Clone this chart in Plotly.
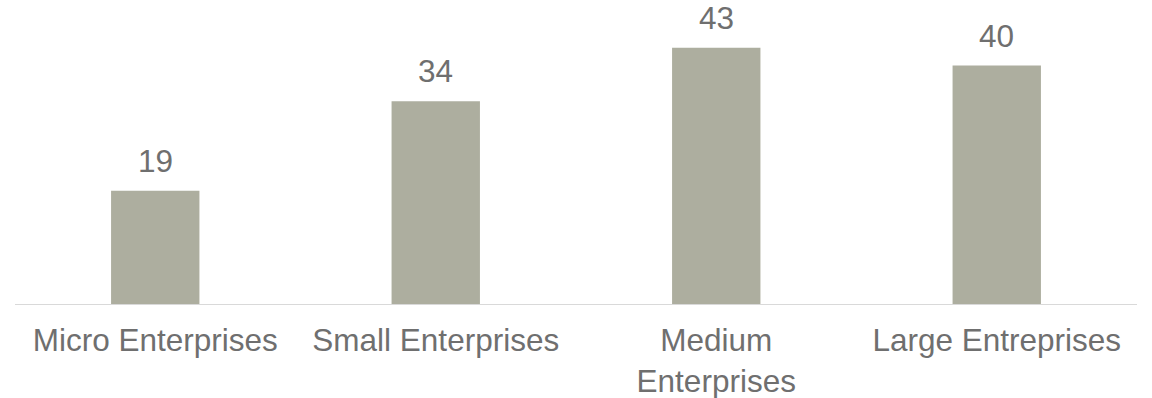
import plotly.graph_objects as go

categories = ["Micro Enterprises", "Small Enterprises", "Medium<br>Enterprises", "Large Entreprises"]
values = [19, 34, 43, 40]
value_labels = ["19", "34", "43", "40"]

BAR_COLOR = "#ADAE9F"
TEXT_COLOR = "#6F6F6F"
FONT = "Liberation Sans, Arial, sans-serif"
FS = 31.5

fig = go.Figure()
fig.add_trace(go.Bar(
    x=categories,
    y=values,
    marker=dict(color=BAR_COLOR, line=dict(width=0)),
    hoverinfo="skip",
))

for c, v, t in zip(categories, values, value_labels):
    fig.add_annotation(
        x=c, y=v, text=t, showarrow=False,
        yanchor="bottom", yshift=11, borderpad=0,
        font=dict(family=FONT, size=FS, color=TEXT_COLOR),
    )

fig.update_layout(
    width=1152, height=398,
    margin=dict(l=15, r=15, t=0, b=94),
    paper_bgcolor="white", plot_bgcolor="white",
    bargap=0.685,
    showlegend=False,
    font=dict(family=FONT, size=FS, color=TEXT_COLOR),
    xaxis=dict(
        type="category",
        range=[-0.5, 3.5],
        showline=True, linecolor="#D9D9D9", linewidth=1,
        showgrid=False, zeroline=False,
        ticks="outside", ticklen=8, tickcolor="rgba(0,0,0,0)",
        tickfont=dict(family=FONT, size=FS, color=TEXT_COLOR),
        fixedrange=True,
    ),
    yaxis=dict(
        range=[0, 51],
        visible=False,
        showgrid=False, zeroline=False,
        fixedrange=True,
    ),
)

# remove the default page margin so the figure fills the window exactly
fig.write_html(
    "out.html",
    config={"displayModeBar": False, "staticPlot": True},
    post_script="document.body.style.margin='0';document.body.style.overflow='hidden';",
)
